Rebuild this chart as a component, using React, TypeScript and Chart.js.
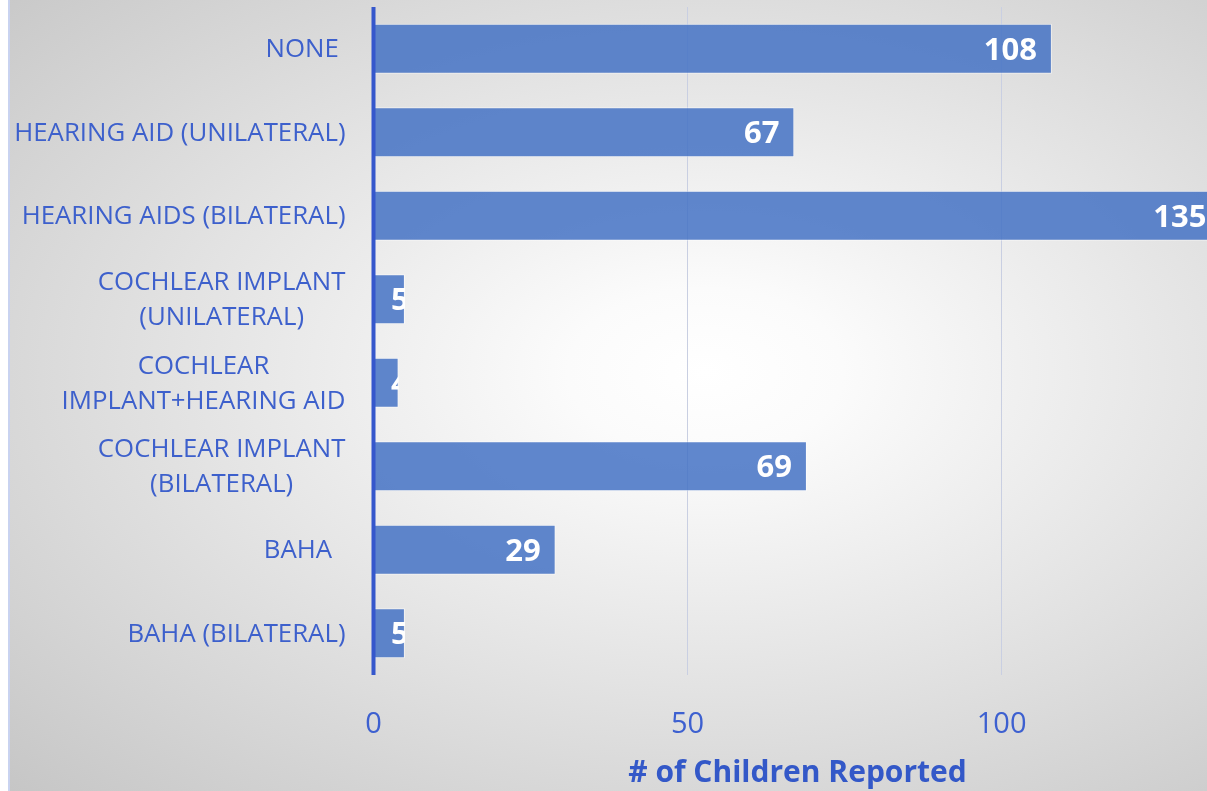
import React, { useEffect, useRef } from "react";
import { Chart, registerables } from "chart.js";

Chart.register(...registerables);

const categories: string[][] = [
  ["NONE "],
  ["HEARING AID (UNILATERAL)"],
  ["HEARING AIDS (BILATERAL)"],
  ["COCHLEAR IMPLANT", "(UNILATERAL)"],
  ["COCHLEAR", "IMPLANT+HEARING AID"],
  ["COCHLEAR IMPLANT", "(BILATERAL)"],
  ["BAHA  "],
  ["BAHA (BILATERAL)"],
];
const childrenCounts: number[] = [108, 67, 135, 5, 4, 69, 29, 5];
const xTickValues: number[] = [0, 50, 100];
const xAxisTitle = "# of Children Reported";

const LABEL_BLUE = "#3D60CC";
const FONT = "'Open Sans', 'Noto Sans', sans-serif";

const categoryLabelPlugin = {
  id: "categoryLabels",
  afterDraw(chart: any) {
    const { ctx } = chart;
    const yScale = chart.scales.y;
    ctx.save();
    ctx.font = `400 25.8px ${FONT}`;
    ctx.fillStyle = LABEL_BLUE;
    ctx.textBaseline = "middle";
    ctx.textAlign = "center";
    const rightEdge = chart.chartArea.left - 28;
    const lineH = 35;
    categories.forEach((lines, i) => {
      const cy = yScale.getPixelForValue(i);
      const widths = lines.map((l) => ctx.measureText(l).width);
      const blockW = Math.max(...widths);
      const cx = rightEdge - blockW / 2;
      const startY = cy - ((lines.length - 1) * lineH) / 2;
      lines.forEach((l, j) => {
        if (lines.length === 1) {
          ctx.textAlign = "right";
          ctx.fillText(l, rightEdge, startY + 1);
          ctx.textAlign = "center";
        } else {
          ctx.fillText(l, cx, startY + j * lineH + 1);
        }
      });
    });
    ctx.restore();
  },
};

const valueLabelPlugin = {
  id: "valueLabels",
  afterDatasetsDraw(chart: any) {
    const { ctx, chartArea } = chart;
    const meta = chart.getDatasetMeta(0);
    ctx.save();
    ctx.font = `700 31px ${FONT}`;
    ctx.fillStyle = "#ffffff";
    ctx.textBaseline = "middle";
    ctx.textAlign = "right";
    meta.data.forEach((bar: any, i: number) => {
      const { x, y, base, height } = bar.getProps(["x", "y", "base", "height"], true);
      const text = String(childrenCounts[i]);
      const w = ctx.measureText(text).width;
      const rx = Math.max(x - 15, base + 17 + w);
      ctx.save();
      ctx.beginPath();
      ctx.rect(base, y - height / 2, x - base, height);
      ctx.clip();
      ctx.fillText(text, rx, y + 2);
      ctx.restore();
    });
    // vertical category axis line drawn over the bars' start
    ctx.beginPath();
    ctx.strokeStyle = "#3557CC";
    ctx.lineWidth = 4;
    ctx.moveTo(chartArea.left, chartArea.top);
    ctx.lineTo(chartArea.left, chartArea.bottom);
    ctx.stroke();
    ctx.restore();
  },
};

export default function App() {
  const canvasRef = useRef<HTMLCanvasElement | null>(null);

  useEffect(() => {
    if (!canvasRef.current) return;
    const chart = new Chart(canvasRef.current, {
      type: "bar",
      data: {
        labels: categories.map((c) => c.join(" ")),
        datasets: [
          {
            data: childrenCounts,
            backgroundColor: "rgba(68,114,196,0.85)",
            borderColor: "rgba(255,255,255,0.55)",
            borderWidth: 1,
            categoryPercentage: 0.6,
            barPercentage: 1,
          },
        ],
      },
      options: {
        indexAxis: "y",
        responsive: false,
        animation: false,
        layout: { padding: { left: 373.5, right: 8.5, top: 7, bottom: 0 } },
        plugins: { legend: { display: false }, tooltip: { enabled: false } },
        scales: {
          x: {
            type: "linear",
            min: 0,
            max: 135,
            afterFit: (s: any) => {
              s.height = 116;
            },
            afterBuildTicks: (s: any) => {
              s.ticks = xTickValues.map((v) => ({ value: v }));
            },
            border: { display: false },
            grid: {
              drawTicks: false,
              color: (c: any) => (c.tick && c.tick.value === 0 ? "rgba(0,0,0,0)" : "#c9cfe2"),
              lineWidth: 1,
            },
            ticks: {
              padding: 32,
              color: "#3D60D0",
              font: { family: FONT, size: 29, weight: "400" },
            },
            title: {
              display: true,
              text: xAxisTitle,
              color: "#3358C8",
              font: { family: FONT, size: 30, weight: "bold" },
              padding: { top: 0, bottom: 0 },
            },
          },
          y: {
            afterFit: (s: any) => {
              s.width = 0;
            },
            grid: { display: false, drawTicks: false },
            border: { display: false },
            ticks: { display: false },
          },
        },
      },
      plugins: [categoryLabelPlugin, valueLabelPlugin],
    });
    return () => chart.destroy();
  }, []);

  return (
    <div
      style={{
        position: "fixed",
        left: 0,
        top: 0,
        width: "1207px",
        height: "791px",
        overflow: "hidden",
        background: "#ffffff",
      }}
    >
      <div
        style={{
          position: "absolute",
          left: "8px",
          top: 0,
          width: "1220px",
          height: "791px",
          borderLeft: "2px solid #c9d3f0",
          background:
            "radial-gradient(ellipse farthest-corner at 57% 47%, #ffffff 0%, #fbfbfb 14%, #c6c6c6 100%)",
        }}
      />
      <canvas
        ref={canvasRef}
        width={1230}
        height={791}
        style={{ position: "absolute", left: 0, top: 0, width: "1230px", height: "791px" }}
      />
    </div>
  );
}
